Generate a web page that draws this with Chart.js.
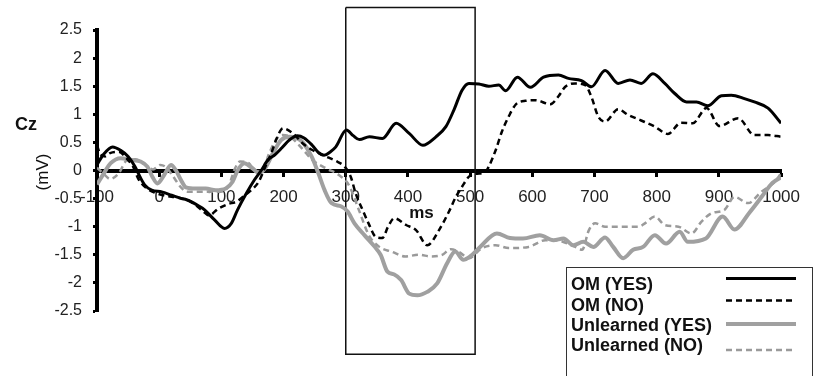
<!DOCTYPE html>
<html>
<head>
<meta charset="utf-8">
<script src="https://cdn.jsdelivr.net/npm/chart.js@4.4.1/dist/chart.umd.min.js"></script>
<style>
    html, body { margin: 0; padding: 0; background: #fff; }
    #wrap { width: 813px; height: 376px; position: relative; }
</style>
</head>
<body>
<div id="wrap"><canvas id="chart"></canvas></div>
<script>
const FONT = "'Liberation Sans', Arial, sans-serif";

// OM (YES) - black solid
const omYesMs = [-100, -90, -75, -62, -50, -39, -31, -23, -12, 4, 20, 36, 44, 65, 73, 89, 105, 116, 126, 140, 153, 164,
    175, 186, 197, 209, 222, 233, 246, 256, 265, 275, 284, 301, 312, 322, 338, 359, 381, 402, 424, 445, 461, 474, 487, 498,
    514, 530, 546, 557, 576, 597, 618, 642, 658, 679, 695, 717, 738, 757, 775, 794, 813, 829, 848, 864, 882, 904, 920,
    941, 957, 979, 1000];
const omYesMv = [0.1, 0.28, 0.42, 0.36, 0.25, 0.07, -0.11, -0.26, -0.35, -0.38, -0.44, -0.5, -0.52, -0.64, -0.7, -0.88,
    -1.03, -0.94, -0.7, -0.41, -0.17, 0.0, 0.19, 0.28, 0.4, 0.54, 0.62, 0.58, 0.45, 0.32, 0.27, 0.33, 0.42, 0.72, 0.62,
    0.55, 0.6, 0.57, 0.84, 0.66, 0.45, 0.6, 0.78, 1.08, 1.43, 1.55, 1.54, 1.5, 1.52, 1.42, 1.66, 1.48, 1.66, 1.7, 1.64,
    1.6, 1.49, 1.78, 1.55, 1.61, 1.55, 1.72, 1.55, 1.37, 1.22, 1.22, 1.15, 1.33, 1.34, 1.28, 1.22, 1.11, 0.84];

// OM (NO) - black dashed
const omNoMs = [-100, -95, -87, -79, -64, -53, -42, -34, -22, -10, 10, 22, 44, 57, 70, 80, 95, 110, 125, 140, 150, 160,
    170, 180, 190, 199, 215, 231, 247, 266, 284, 298, 308, 316, 327, 337, 348, 359, 368, 378, 397, 413, 431, 450, 466,
    477, 487, 498, 509, 525, 530, 541, 551, 562, 573, 589, 605, 629, 642, 653, 669, 685, 695, 706, 717, 738, 754, 775,
    797, 818, 839, 858, 880, 901, 931, 957, 979, 1000];
const omNoMv = [0.45, 0.3, 0.25, 0.31, 0.33, 0.22, 0.07, -0.14, -0.3, -0.38, -0.45, -0.47, -0.52, -0.6, -0.72, -0.8,
    -0.68, -0.6, -0.55, -0.42, -0.33, -0.2, 0.05, 0.3, 0.6, 0.75, 0.66, 0.48, 0.36, 0.26, 0.17, 0.07, -0.11, -0.41, -0.7,
    -0.95, -1.18, -1.2, -1.0, -0.85, -0.97, -1.06, -1.33, -1.06, -0.73, -0.47, -0.29, -0.11, -0.06, -0.02, 0.07, 0.36,
    0.69, 0.96, 1.17, 1.24, 1.25, 1.18, 1.32, 1.49, 1.55, 1.52, 1.31, 0.96, 0.87, 1.09, 0.99, 0.89, 0.78, 0.65, 0.85,
    0.84, 1.11, 0.79, 0.93, 0.63, 0.63, 0.6];

// Unlearned (YES) - grey solid
const unYesMs = [-100, -89, -78, -62, -46, -30, -19, -11, -3, 8, 19, 27, 35, 43, 59, 75, 91, 107, 118, 126, 137, 150,
    161, 172, 183, 196, 209, 229, 245, 256, 266, 277, 293, 303, 314, 330, 346, 356, 367, 378, 389, 402, 415, 431, 447,
    463, 476, 489, 500, 516, 543, 564, 585, 612, 634, 650, 666, 682, 698, 717, 730, 746, 762, 778, 797, 815, 837, 850,
    879, 906, 925, 949, 970, 986, 1000];
const unYesMv = [-0.25, -0.05, 0.13, 0.22, 0.19, 0.16, 0.07, -0.11, -0.23, -0.08, 0.1, 0.0, -0.17, -0.3, -0.32, -0.32,
    -0.35, -0.32, -0.2, 0.0, 0.13, 0.04, -0.05, 0.07, 0.31, 0.54, 0.6, 0.52, 0.25, -0.05, -0.35, -0.58, -0.64, -0.73,
    -0.94, -1.15, -1.35, -1.5, -1.8, -1.85, -1.95, -2.19, -2.22, -2.16, -2.01, -1.65, -1.44, -1.59, -1.53, -1.36, -1.12,
    -1.2, -1.21, -1.15, -1.24, -1.21, -1.33, -1.27, -1.36, -1.19, -1.36, -1.56, -1.41, -1.36, -1.15, -1.3, -1.09, -1.27,
    -1.21, -0.82, -1.05, -0.75, -0.45, -0.22, -0.12];

// Unlearned (NO) - grey dashed
const unNoMs = [-100, -90, -79, -65, -52, -38, -25, -10, 2, 12, 22, 35, 45, 73, 95, 111, 122, 130, 144, 155, 166, 177,
    188, 198, 209, 230, 246, 268, 289, 305, 321, 337, 353, 375, 396, 417, 438, 455, 469, 482, 498, 519, 541, 562, 594,
    621, 637, 669, 680, 691, 701, 717, 749, 771, 781, 797, 813, 835, 856, 872, 888, 909, 925, 947, 968, 990, 1000];
const unNoMv = [0.05, -0.05, -0.15, -0.05, 0.18, 0.2, 0.12, 0.02, 0.1, 0.05, -0.1, -0.3, -0.38, -0.38, -0.38, -0.29,
    0.04, 0.16, 0.13, -0.02, 0.0, 0.31, 0.55, 0.63, 0.61, 0.39, 0.19, 0.04, -0.08, -0.26, -0.7, -1.15, -1.35, -1.45,
    -1.53, -1.5, -1.53, -1.5, -1.4, -1.45, -1.56, -1.38, -1.33, -1.38, -1.36, -1.24, -1.24, -1.36, -1.41, -1.06, -0.94,
    -1.0, -1.0, -1.0, -0.94, -0.82, -0.97, -1.0, -1.12, -0.91, -0.76, -0.7, -0.47, -0.58, -0.38, -0.2, -0.05];

// analysis window (300-508 ms)
const windowMs = [300, 508, 508, 300, 300];
const windowMv = [2.9, 2.9, -3.27, -3.27, 2.9];

const yTicks = { min: -2.5, max: 2.5, step: 0.5 };
const xTicks = { min: -100, max: 1000, step: 100 };

function toPoints(xs, ys) {
    return xs.map((x, i) => ({ x, y: ys[i] }));
}

function lineDataset(label, xs, ys, color, width, dash) {
    return {
        label,
        data: toPoints(xs, ys),
        borderColor: color,
        borderWidth: width,
        borderDash: dash,
        pointRadius: 0,
        fill: false,
        tension: 0.4,
        cubicInterpolationMode: 'monotone'
    };
}

const annotationText = {
    id: 'annotationText',
    afterDraw(chart) {
        const { ctx } = chart;
        ctx.save();
        ctx.fillStyle = '#111';
        ctx.font = `bold 18px ${FONT}`;
        ctx.textAlign = 'left';
        ctx.textBaseline = 'alphabetic';
        ctx.fillText('Cz', 15, 129.5);

        ctx.font = `bold 17px ${FONT}`;
        ctx.textAlign = 'center';
        ctx.fillText('ms', 421.5, 218);

        ctx.translate(43.5, 172);
        ctx.rotate(-Math.PI / 2);
        ctx.font = `17px ${FONT}`;
        ctx.textBaseline = 'middle';
        ctx.fillText('(mV)', 0, 0);
        ctx.restore();
    }
};

const boxLegend = {
    id: 'boxLegend',
    afterDraw(chart) {
        const { ctx } = chart;
        const textY = [290, 311, 331, 351];
        const lineY = [278.5, 300.5, 324, 350];
        ctx.save();
        ctx.fillStyle = '#fff';
        ctx.fillRect(566.5, 267.5, 246, 115);
        ctx.strokeStyle = '#333';
        ctx.lineWidth = 1;
        ctx.strokeRect(566.5, 267.5, 246, 115);

        const items = chart.data.datasets.filter(ds => ds.inLegend !== false);
        items.forEach((ds, i) => {
            ctx.fillStyle = '#111';
            ctx.font = `bold 18px ${FONT}`;
            ctx.textAlign = 'left';
            ctx.textBaseline = 'alphabetic';
            ctx.fillText(ds.label, 571, textY[i]);

            ctx.beginPath();
            ctx.strokeStyle = ds.borderColor;
            ctx.lineWidth = ds.borderWidth;
            ctx.setLineDash(ds.borderDash || []);
            ctx.moveTo(726, lineY[i]);
            ctx.lineTo(796, lineY[i]);
            ctx.stroke();
            ctx.setLineDash([]);
        });
        ctx.restore();
    }
};

new Chart(document.getElementById('chart'), {
    type: 'line',
    data: {
        datasets: [
            lineDataset('OM (YES)', omYesMs, omYesMv, '#000', 3, []),
            lineDataset('OM (NO)', omNoMs, omNoMv, '#000', 2.5, [6, 4]),
            lineDataset('Unlearned (YES)', unYesMs, unYesMv, '#a0a0a0', 4, []),
            lineDataset('Unlearned (NO)', unNoMs, unNoMv, '#9a9a9a', 2.5, [6, 4]),
            {
                label: 'window',
                inLegend: false,
                data: toPoints(windowMs, windowMv),
                borderColor: '#111',
                borderWidth: 1.5,
                pointRadius: 0,
                tension: 0,
                fill: false,
                clip: false
            }
        ]
    },
    options: {
        responsive: true,
        maintainAspectRatio: false,
        animation: false,
        devicePixelRatio: 1,
        layout: {
            padding: { left: 0, right: 30, top: 30, bottom: 65 }
        },
        plugins: {
            legend: { display: false },
            tooltip: { enabled: false }
        },
        scales: {
            x: {
                type: 'linear',
                min: xTicks.min,
                max: xTicks.max,
                position: { y: 0 },
                border: { display: true, color: '#000', width: 4 },
                grid: {
                    drawOnChartArea: false,
                    drawTicks: true,
                    tickLength: 4,
                    tickWidth: 3,
                    color: '#000'
                },
                ticks: {
                    stepSize: xTicks.step,
                    autoSkip: false,
                    maxRotation: 0,
                    padding: 13,
                    color: '#222',
                    font: { family: FONT, size: 17 },
                    callback: (value) => String(value)
                }
            },
            y: {
                type: 'linear',
                min: yTicks.min,
                max: yTicks.max,
                position: 'left',
                border: { display: true, color: '#000', width: 4 },
                grid: {
                    drawOnChartArea: false,
                    drawTicks: true,
                    tickLength: 4,
                    tickWidth: 3,
                    color: '#000'
                },
                ticks: {
                    stepSize: yTicks.step,
                    padding: 11,
                    color: '#222',
                    font: { family: FONT, size: 16 },
                    callback: (value) => String(value)
                },
                afterFit: (scale) => {
                    scale.width = 97;
                }
            }
        }
    },
    plugins: [annotationText, boxLegend]
});
</script>
</body>
</html>
